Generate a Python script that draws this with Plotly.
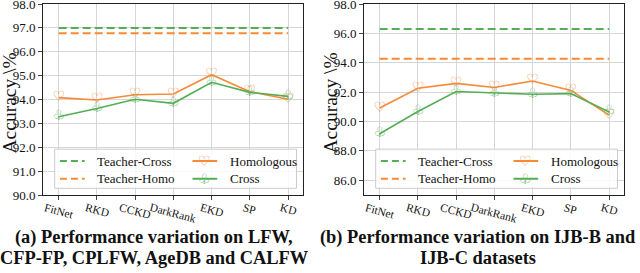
import plotly.graph_objects as go
from plotly.subplots import make_subplots

methods = ["FitNet", "RKD", "CCKD", "DarkRank", "EKD", "SP", "KD"]

# Panel (a): LFW, CFP-FP, CPLFW, AgeDB, CALFW
a_homologous = [94.08, 93.98, 94.20, 94.23, 95.04, 94.33, 94.01]
a_cross = [93.28, 93.62, 94.01, 93.84, 94.72, 94.30, 94.13]
a_teacher_cross = 97.00
a_teacher_homo = 96.77

# Panel (b): IJB-B, IJB-C
b_homologous = [90.92, 92.27, 92.60, 92.32, 92.76, 92.12, 90.44]
b_cross = [89.17, 90.68, 92.04, 91.93, 91.86, 91.90, 90.65]
b_teacher_cross = 96.30
b_teacher_homo = 94.28

y_ticks_a = [90.0, 91.0, 92.0, 93.0, 94.0, 95.0, 96.0, 97.0, 98.0]
y_ticks_b = [86.0, 88.0, 90.0, 92.0, 94.0, 96.0, 98.0]

captions_a = ["(a) Performance variation on LFW,", "CFP-FP, CPLFW, AgeDB and CALFW"]
captions_b = ["(b) Performance variation on IJB-B and", "IJB-C datasets"]

ORANGE = "rgb(247,137,55)"
GREEN = "rgb(84,174,84)"
SERIF = "Liberation Serif"
SYMF = "DejaVu Sans"

fig = make_subplots(rows=1, cols=2, horizontal_spacing=0.105)

panels = [
    (1, a_homologous, a_cross, a_teacher_cross, a_teacher_homo, [90, 98], y_ticks_a),
    (2, b_homologous, b_cross, b_teacher_cross, b_teacher_homo, [85, 98], y_ticks_b),
]

for col, hom, cro, tc, th, yr, yt in panels:
    fig.add_trace(go.Scatter(x=methods, y=[tc] * len(methods), mode="lines",
                             line=dict(color=GREEN, width=2, dash="8px,4px"),
                             showlegend=False, hoverinfo="skip"), row=1, col=col)
    fig.add_trace(go.Scatter(x=methods, y=[th] * len(methods), mode="lines",
                             line=dict(color=ORANGE, width=2, dash="8px,4px"),
                             showlegend=False, hoverinfo="skip"), row=1, col=col)
    fig.add_trace(go.Scatter(x=methods, y=hom, mode="lines+text",
                             line=dict(color=ORANGE, width=1.6),
                             text=["<b>\u2661</b>"] * len(methods), textposition="middle center",
                             textfont=dict(family=SYMF, size=14, color=ORANGE),
                             showlegend=False), row=1, col=col)
    fig.add_trace(go.Scatter(x=methods, y=cro, mode="lines+text",
                             line=dict(color=GREEN, width=1.6),
                             text=["<b>\u2667</b>"] * len(methods), textposition="middle center",
                             textfont=dict(family=SYMF, size=14, color=GREEN),
                             showlegend=False), row=1, col=col)
    fig.update_xaxes(type="category", range=[-0.41, 6.39], showgrid=True,
                     gridcolor="#d6d6d6", gridwidth=1, showline=True, linecolor="#222",
                     linewidth=1, mirror=True, ticks="outside", ticklen=4,
                     showticklabels=False, automargin=False,
                     zeroline=False, row=1, col=col)
    fig.update_yaxes(range=yr, tickvals=yt, ticktext=["%.1f" % v for v in yt],
                     showgrid=True, gridcolor="#d6d6d6", gridwidth=1, showline=True,
                     linecolor="#222", linewidth=1, mirror=True, ticks="outside",
                     ticklen=4, tickfont=dict(family=SERIF, size=13, color="#111"),
                     ticklabeloverflow="allow", automargin=False,
                     zeroline=False, row=1, col=col)
    xr = "x" if col == 1 else "x2"
    xdom = "x domain" if col == 1 else "x2 domain"
    yref = "y domain" if col == 1 else "y2 domain"
    # y-axis title
    fig.add_annotation(xref=xdom, yref=yref, x=0, y=0.5, xshift=-34, yshift=-4,
                       text="Accuracy \\%", textangle=-90, showarrow=False,
                       xanchor="center", yanchor="middle",
                       font=dict(family=SERIF, size=19.5, color="#111"))
    # rotated, centred category labels
    for m in methods:
        fig.add_annotation(xref=xr, yref=yref, x=m, y=0, yshift=-4, text=m,
                           textangle=15, showarrow=False, xanchor="center",
                           yanchor="top",
                           font=dict(family=SERIF, size=11.5, color="#111"))


def add_legend(col):
    xref = "x domain" if col == 1 else "x2 domain"
    yref = "y domain" if col == 1 else "y2 domain"
    fig.add_shape(type="rect", xref=xref, yref=yref, x0=0.045, x1=0.975, y0=0.035, y1=0.24,
                  line=dict(color="#cccccc", width=1), fillcolor="rgba(255,255,255,0.85)",
                  layer="above")
    rows = [0.178, 0.085]
    items = [
        (0, 0, "Teacher-Cross", GREEN, True, None),
        (0, 1, "Teacher-Homo", ORANGE, True, None),
        (1, 0, "Homologous", ORANGE, False, "\u2661"),
        (1, 1, "Cross", GREEN, False, "\u2667"),
    ]
    cx = [(0.065, 0.16, 0.20), (0.575, 0.67, 0.71)]
    for c, r, label, color, dashed, sym in items:
        x0, x1, xt = cx[c]
        y = rows[r]
        fig.add_shape(type="line", xref=xref, yref=yref, x0=x0, x1=x1, y0=y, y1=y,
                      line=dict(color=color, width=2, dash="7px,4px" if dashed else "solid"),
                      layer="above")
        if sym:
            fig.add_annotation(xref=xref, yref=yref, x=(x0 + x1) / 2, y=y,
                               text="<b>%s</b>" % sym,
                               showarrow=False, font=dict(family=SYMF, size=14, color=color),
                               xanchor="center", yanchor="middle")
        fig.add_annotation(xref=xref, yref=yref, x=xt, y=y, text=label, showarrow=False,
                           font=dict(family=SERIF, size=13, color="#111"),
                           xanchor="left", yanchor="middle")


add_legend(1)
add_legend(2)


def px2paper(px):
    return (px - 43) / 581.0


for cx_px, lines in [(154, captions_a), (478, captions_b)]:
    for i, t in enumerate(lines):
        ypix = 237 + 21 * i
        fig.add_annotation(xref="paper", yref="paper", x=px2paper(cx_px),
                           y=(195 - ypix) / 191.0, text="<b>%s</b>" % t, showarrow=False,
                           xanchor="center", yanchor="middle",
                           font=dict(family=SERIF, size=18.4, color="#111"))

fig.update_layout(width=640, height=273, margin=dict(l=43, r=16, t=4, b=78, autoexpand=False),
                  paper_bgcolor="white", plot_bgcolor="white", showlegend=False)

fig.write_html("out.html", config={"displayModeBar": False},
               post_script="document.body.style.margin='0';document.body.style.overflow='hidden';")
